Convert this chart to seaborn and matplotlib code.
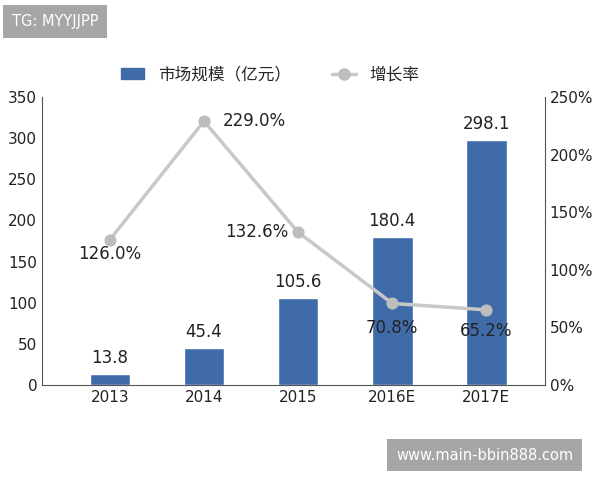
import matplotlib
matplotlib.use('Agg')
import matplotlib.pyplot as plt
import seaborn as sns
import pandas as pd
from matplotlib.lines import Line2D
from matplotlib.patches import Patch

years = ['2013', '2014', '2015', '2016E', '2017E']
market = [13.8, 45.4, 105.6, 180.4, 298.1]
growth = [126.0, 229.0, 132.6, 70.8, 65.2]

sns.set_style('white')
plt.rcParams['font.family'] = ['DejaVu Sans', 'Noto Sans CJK SC']

df = pd.DataFrame({'year': years, 'market': market, 'growth': growth})

fig = plt.figure(figsize=(6, 4.8), dpi=100)
ax = fig.add_axes([0.07, 0.198, 0.838, 0.6])
sns.barplot(data=df, x='year', y='market', color='#3f6ca8', width=0.43, saturation=1, ax=ax)
ax.set_ylim(0, 350)
ax.set_xlim(-0.72, 4.62)
ax.set_xlabel('')
ax.set_ylabel('')
ax.tick_params(labelsize=11, colors='#222222', length=0)
for s in ['top', 'right']:
    ax.spines[s].set_visible(False)
for s in ['left', 'bottom']:
    ax.spines[s].set_color('#555555')
for i, v in enumerate(market):
    ax.text(i, v + 8, f'{v:.1f}', ha='center', va='bottom', fontsize=12, color='#222222')

ax2 = ax.twinx()
sns.lineplot(x=list(range(len(years))), y=growth, ax=ax2, color='#c8c8c8', lw=2.5,
             marker='o', markersize=8, markerfacecolor='#bdbdbd', markeredgecolor='#bdbdbd')
ax2.set_ylim(0, 250)
ax2.set_yticks(range(0, 251, 50))
ax2.set_yticklabels([f'{t}%' for t in range(0, 251, 50)])
ax2.tick_params(labelsize=11, colors='#222222', length=0)
for s in ['top', 'left', 'bottom']:
    ax2.spines[s].set_visible(False)
ax2.spines['right'].set_color('#555555')
offsets = [(0, -12, 'center'), (0.2, 0, 'left'), (-0.1, 0, 'right'), (0, -21, 'center'), (0, -18, 'center')]
for i, (g, (dx, dy, ha)) in enumerate(zip(growth, offsets)):
    ax2.text(i + dx, g + dy, f'{g:.1f}%', ha=ha, va='center', fontsize=12, color='#222222')

handles = [Patch(color='#3f6ca8'),
           Line2D([0], [0], color='#c8c8c8', lw=2.5, marker='o', markersize=8,
                  markerfacecolor='#bdbdbd', markeredgecolor='#bdbdbd')]
fig.legend(handles, ['市场规模（亿元）', '增长率'], loc='center', bbox_to_anchor=(0.45, 0.845),
           ncol=2, frameon=False, fontsize=12, handlelength=1.4, columnspacing=2.5)

fig.text(0.02, 0.955, 'TG: MYYJJPP', fontsize=10.5, color='white', va='center',
         bbox=dict(boxstyle='square,pad=0.6', fc='#a6a6a6', ec='none'))
fig.text(0.66, 0.052, 'www.main-bbin888.com', fontsize=10.5, color='white', va='center',
         bbox=dict(boxstyle='square,pad=0.6', fc='#a6a6a6', ec='none'))

fig.savefig('out.png', dpi=100)
